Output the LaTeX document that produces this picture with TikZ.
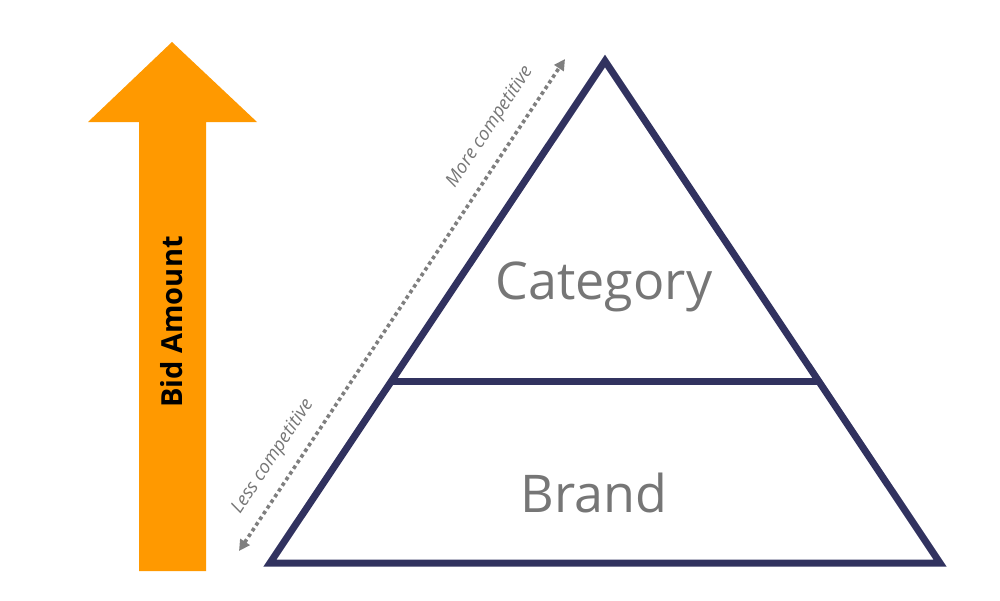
\documentclass[tikz,border=0pt]{standalone}
\usepackage{fontspec}
\setmainfont{Open Sans}
\usetikzlibrary{arrows.meta,calc}
\definecolor{bidorange}{HTML}{FF9900}
\definecolor{navy}{HTML}{31325F}
\definecolor{txtgray}{HTML}{767676}
\definecolor{dotgray}{HTML}{7F7F7F}
\tikzset{
  pyr/.style={draw=navy,line width=7pt,line join=miter},
  levellabel/.style={text=txtgray,font=\fontsize{52}{60}\selectfont,inner sep=0pt},
  complabel/.style={text=txtgray,font=\itshape\fontsize{18.5}{22}\selectfont,inner sep=0pt},
  dotline/.style={draw=dotgray,line width=3.6pt,dash pattern=on 3.6pt off 3.2pt,
    {Triangle[length=11pt,width=11pt,fill=dotgray]}-{Triangle[length=11pt,width=11pt,fill=dotgray]}},
}
\begin{document}
\begin{tikzpicture}[x=1pt,y=-1pt]
\useasboundingbox (0,0) rectangle (1000,600);
% orange bid arrow
\fill[bidorange] (139,571) -- (139,122) -- (88,122) -- (172,42) -- (257,122) -- (206,122) -- (206,571) -- cycle;
\node[rotate=90,font=\bfseries\fontsize{29}{34}\selectfont,inner sep=0pt] (bid) at (172,322) {Bid Amount};
% pyramid
\coordinate (apex) at (605,61);
\coordinate (bl) at (270,563);
\coordinate (br) at (940,563);
\draw[pyr] (apex) -- (bl) -- (br) -- cycle;
\coordinate (dl) at ($(bl)!0.3606!(apex)$);
\coordinate (dr) at ($(br)!0.3606!(apex)$);
\draw[pyr] (dl) -- (dr);
\node[levellabel] (cat) at (604,287) {Category};
\node[levellabel] (brand) at (594,493) {Brand};
% dotted competitiveness arrow
\coordinate (lo) at (239,551);
\coordinate (hi) at (565,59);
\draw[dotline] (lo) -- (hi);
\node[complabel,rotate=56.5] (more) at (490,127) {More competitive};
\node[complabel,rotate=56.5] (less) at (273,457) {Less competitive};
\end{tikzpicture}
\end{document}
